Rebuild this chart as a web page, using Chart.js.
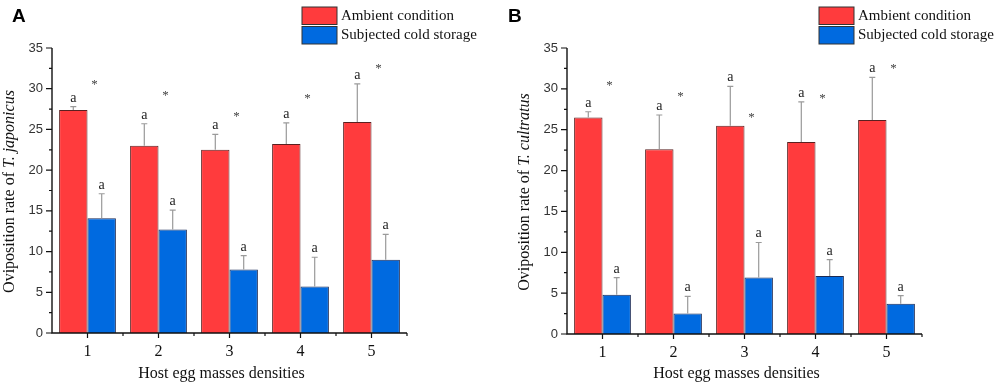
<!DOCTYPE html>
<html>
<head>
<meta charset="utf-8">
<script src="https://cdn.jsdelivr.net/npm/chart.js@4.4.1/dist/chart.umd.min.js"></script>
<style>
  body { margin: 0; background: #fff; }
  #wrap { position: relative; width: 996px; height: 388px; }
  canvas { position: absolute; top: 0; }
  #chartA { left: 0; }
  #chartB { left: 498px; }
</style>
</head>
<body>
<div id="wrap">
  <canvas id="chartA" width="498" height="388"></canvas>
  <canvas id="chartB" width="498" height="388"></canvas>
</div>
<script>
// kategorie (gęstości złóż jaj)
const densities = ['1', '2', '3', '4', '5'];
const yTicks = [0, 5, 10, 15, 20, 25, 30, 35];

// panel A - T. japonicus
const ambientA = [27.4, 23.0, 22.5, 23.2, 25.9];
const ambientErrA = [0.4, 2.7, 1.9, 2.6, 4.7];
const coldA = [14.1, 12.7, 7.8, 5.7, 9.0];
const coldErrA = [3.0, 2.4, 1.7, 3.6, 3.1];
const starsA = [30.9, 29.5, 26.9, 29.2, 32.9];

// panel B - T. cultratus
const ambientB = [26.5, 22.6, 25.5, 23.5, 26.2];
const ambientErrB = [0.7, 4.2, 4.8, 4.9, 5.2];
const coldB = [4.8, 2.5, 6.9, 7.1, 3.7];
const coldErrB = [2.1, 2.1, 4.3, 2.0, 1.0];
const starsB = [30.8, 29.4, 26.9, 29.2, 32.8];

// litery istotności
const lettersAmbient = ['a', 'a', 'a', 'a', 'a'];
const lettersCold = ['a', 'a', 'a', 'a', 'a'];

const RED = '#ff3b3d';
const BLUE = '#006ae0';
const SERIF = '"Liberation Serif", "Times New Roman", serif';

// rysowanie osi, słupków błędów, gwiazdek, legendy i tytułów
const decorPlugin = {
    id: 'decor',
    afterDatasetsDraw(chart, args, opts) {
        const ctx = chart.ctx;
        const xs = chart.scales.x;
        const ys = chart.scales.y;
        const area = chart.chartArea;
        ctx.save();

        // słupki błędów + litery
        chart.data.datasets.forEach((ds, i) => {
            const meta = chart.getDatasetMeta(i);
            meta.data.forEach((bar, j) => {
                const top = ys.getPixelForValue(ds.data[j] + ds.errors[j]);
                ctx.strokeStyle = '#9a9a9a';
                ctx.lineWidth = 1.2;
                ctx.beginPath();
                ctx.moveTo(bar.x, bar.y);
                ctx.lineTo(bar.x, top);
                ctx.moveTo(bar.x - 3, top);
                ctx.lineTo(bar.x + 3, top);
                ctx.stroke();
                ctx.fillStyle = '#222';
                ctx.font = '14px ' + SERIF;
                ctx.textAlign = 'center';
                ctx.textBaseline = 'alphabetic';
                ctx.fillText(ds.letters[j], bar.x, top - 5);
            });
        });

        // gwiazdki
        const catW = (area.right - area.left) / densities.length;
        ctx.fillStyle = '#444';
        ctx.font = '13px ' + SERIF;
        ctx.textAlign = 'center';
        ctx.textBaseline = 'middle';
        opts.stars.forEach((v, j) => {
            ctx.fillText('*', xs.getPixelForValue(j) + catW * 0.1, ys.getPixelForValue(v) + 3);
        });

        // osie
        ctx.strokeStyle = '#111';
        ctx.lineWidth = 1.4;
        ctx.beginPath();
        ctx.moveTo(area.left, area.top);
        ctx.lineTo(area.left, area.bottom);
        ctx.lineTo(area.right, area.bottom);
        ctx.stroke();
        ctx.lineWidth = 1.2;
        ctx.beginPath();
        for (let v = 0; v <= 35; v += 2.5) {
            const y = ys.getPixelForValue(v);
            const len = v % 5 === 0 ? 6 : 3;
            ctx.moveTo(area.left - len, y);
            ctx.lineTo(area.left, y);
        }
        densities.forEach((d, j) => {
            const x = xs.getPixelForValue(j);
            ctx.moveTo(x, area.bottom);
            ctx.lineTo(x, area.bottom + 5);
        });
        for (let k = 1; k <= densities.length; k++) {
            const x = area.left + k * catW;
            ctx.moveTo(x, area.bottom);
            ctx.lineTo(x, area.bottom + 3);
        }
        ctx.stroke();

        // litera panelu
        ctx.fillStyle = '#000';
        ctx.font = 'bold 19px "Liberation Sans", Arial, sans-serif';
        ctx.textAlign = 'left';
        ctx.textBaseline = 'top';
        ctx.fillText(opts.panel, opts.panelX, 7);

        // legenda
        const items = [[RED, 'Ambient condition'], [BLUE, 'Subjected cold storage']];
        items.forEach((it, k) => {
            const y = 7 + k * 19.5;
            ctx.fillStyle = it[0];
            ctx.fillRect(opts.legendX, y, 35, 17.5);
            ctx.strokeStyle = '#333';
            ctx.lineWidth = 1;
            ctx.strokeRect(opts.legendX, y, 35, 17.5);
            ctx.fillStyle = '#111';
            ctx.font = '15px ' + SERIF;
            ctx.textAlign = 'left';
            ctx.textBaseline = 'middle';
            ctx.fillText(it[1], opts.legendX + 39, y + 9);
        });

        // tytuł osi X
        ctx.fillStyle = '#111';
        ctx.font = '16px ' + SERIF;
        ctx.textAlign = 'center';
        ctx.textBaseline = 'alphabetic';
        ctx.fillText('Host egg masses densities', (area.left + area.right) / 2 - 8, 378);

        // tytuł osi Y (część kursywą)
        const plain = 'Oviposition rate of ';
        ctx.save();
        ctx.translate(opts.yTitleX, (area.top + area.bottom) / 2 + 1);
        ctx.rotate(-Math.PI / 2);
        ctx.font = '16px ' + SERIF;
        const w1 = ctx.measureText(plain).width;
        ctx.font = 'italic 16px ' + SERIF;
        const w2 = ctx.measureText(opts.species).width;
        let x0 = -(w1 + w2) / 2;
        ctx.textAlign = 'left';
        ctx.textBaseline = 'middle';
        ctx.font = '16px ' + SERIF;
        ctx.fillText(plain, x0, 0);
        ctx.font = 'italic 16px ' + SERIF;
        ctx.fillText(opts.species, x0 + w1, 0);
        ctx.restore();

        ctx.restore();
    }
};

function makeChart(id, ambient, ambientErr, cold, coldErr, stars, extra) {
    return new Chart(document.getElementById(id).getContext('2d'), {
        type: 'bar',
        data: {
            labels: densities,
            datasets: [{
                label: 'Ambient condition',
                data: ambient,
                errors: ambientErr,
                letters: lettersAmbient,
                backgroundColor: RED,
                borderColor: '#5a2020',
                borderWidth: 1,
                categoryPercentage: 0.8,
                barPercentage: 1.0
            }, {
                label: 'Subjected cold storage',
                data: cold,
                errors: coldErr,
                letters: lettersCold,
                backgroundColor: BLUE,
                borderColor: '#1a2a55',
                borderWidth: 1,
                categoryPercentage: 0.8,
                barPercentage: 1.0
            }]
        },
        options: {
            responsive: false,
            animation: false,
            devicePixelRatio: 1,
            layout: { padding: extra.padding },
            plugins: {
                legend: { display: false },
                tooltip: { enabled: false },
                decor: Object.assign({ stars: stars }, extra)
            },
            scales: {
                x: {
                    grid: { display: false, drawTicks: false },
                    border: { display: false },
                    ticks: { color: '#111', padding: 9, font: { family: SERIF, size: 16 } },
                    afterFit: (s) => { s.height = 30; }
                },
                y: {
                    min: 0,
                    max: 35,
                    grid: { display: false, drawTicks: false },
                    border: { display: false },
                    afterBuildTicks: (s) => { s.ticks = yTicks.map(v => ({ value: v })); },
                    ticks: { color: '#333', padding: 9, font: { family: '"Liberation Sans", Arial, sans-serif', size: 13 } },
                    afterFit: (s) => { s.width = 30; }
                }
            }
        },
        plugins: [decorPlugin]
    });
}

makeChart('chartA', ambientA, ambientErrA, coldA, coldErrA, starsA, {
    padding: { left: 22, right: 91, top: 48, bottom: 25 },
    panel: 'A', panelX: 12, legendX: 302, yTitleX: 10, species: 'T. japonicus'
});
makeChart('chartB', ambientB, ambientErrB, coldB, coldErrB, starsB, {
    padding: { left: 39, right: 74, top: 48, bottom: 24 },
    panel: 'B', panelX: 10, legendX: 321, yTitleX: 27, species: 'T. cultratus'
});
</script>
</body>
</html>
